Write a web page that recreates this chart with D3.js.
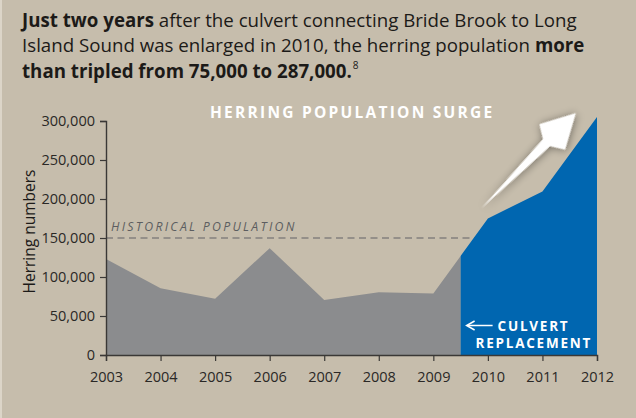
<!DOCTYPE html>
<html>
<head>
<meta charset="utf-8">
<script src="https://cdn.jsdelivr.net/npm/d3@7/dist/d3.min.js"></script>
<style>
  html, body { margin: 0; padding: 0; background: #c6bdac; }
  svg { display: block; }
  text { font-family: "Open Sans", "Noto Sans", sans-serif; }
</style>
</head>
<body>
<svg id="chart" width="636" height="418"></svg>
<script>
// ---- data ----
const years = [2003, 2004, 2005, 2006, 2007, 2008, 2009, 2010, 2011, 2012];
const herring = [123000, 85500, 72000, 137000, 70500, 80500, 79000, 175000, 209500, 305000];
const yTicks = [0, 50000, 100000, 150000, 200000, 250000, 300000];
const historicalLevel = 150000;
const culvertYear = 2009.5;
const headline = [
  [["Just two years", true], [" after the culvert connecting Bride Brook to Long", false]],
  [["Island Sound was enlarged in 2010, the herring population ", false], ["more", true]],
  [["than tripled from 75,000 to 287,000.", true]]
];

const W = 636, H = 418;
const margin = { left: 106, right: 39, top: 121, bottom: 63 };
const svg = d3.select("#chart");

// background
svg.append("rect").attr("width", W).attr("height", H).attr("fill", "#c6bdac");
svg.append("rect").attr("width", 2).attr("height", H).attr("fill", "#dcd5c8");

const x = d3.scaleLinear().domain([2003, 2012]).range([margin.left, W - margin.right]);
const y = d3.scaleLinear().domain([0, 300000]).range([H - margin.bottom, margin.top]);

const defs = svg.append("defs");
defs.append("clipPath").attr("id", "clipGray").append("rect")
  .attr("x", 0).attr("y", 0).attr("width", x(culvertYear)).attr("height", H);
defs.append("clipPath").attr("id", "clipBlue").append("rect")
  .attr("x", x(culvertYear)).attr("y", 0).attr("width", W - x(culvertYear)).attr("height", H);
const f = defs.append("filter").attr("id", "shadow")
  .attr("x", "-50%").attr("y", "-50%").attr("width", "200%").attr("height", "200%");
f.append("feDropShadow").attr("dx", 0).attr("dy", 1).attr("stdDeviation", 4.5)
  .attr("flood-color", "#000").attr("flood-opacity", 0.45);

// headline
const head = svg.append("text").attr("x", 22).attr("y", 27)
  .attr("font-size", 18.7).attr("fill", "#1c1a18");
headline.forEach((line, i) => {
  line.forEach((seg, j) => {
    const t = head.append("tspan").text(seg[0]).attr("font-weight", seg[1] ? 700 : 400);
    if (j === 0) t.attr("x", 22).attr("dy", i === 0 ? 0 : 25.3);
  });
});
head.append("tspan").text("8").attr("font-size", 10).attr("dy", -9).attr("dx", 1);

// historical dashed line (behind area)
svg.append("line")
  .attr("x1", x(2003)).attr("x2", x(2010)).attr("y1", y(historicalLevel)).attr("y2", y(historicalLevel))
  .attr("stroke", "#626366").attr("stroke-width", 1.2).attr("stroke-dasharray", "7,4.5");
svg.append("text").attr("x", x(2003) + 5).attr("y", y(historicalLevel) - 7.5)
  .attr("font-size", 12.3).attr("font-style", "italic").attr("letter-spacing", 2.3)
  .attr("fill", "#5c5d60").text("HISTORICAL POPULATION");

// areas
const data = years.map((yr, i) => ({ yr, v: herring[i] }));
const area = d3.area().x(d => x(d.yr)).y0(y(0)).y1(d => y(d.v));
svg.append("path").datum(data).attr("d", area).attr("fill", "#8b8c8e").attr("clip-path", "url(#clipGray)");
svg.append("path").datum(data).attr("d", area).attr("fill", "#0066b0").attr("clip-path", "url(#clipBlue)");

// axes
const yAxis = svg.append("g").attr("transform", `translate(${x(2003)},0)`)
  .call(d3.axisLeft(y).tickValues(yTicks).tickSize(6).tickPadding(5).tickFormat(d3.format(",")));
const xAxis = svg.append("g").attr("transform", `translate(0,${y(0)})`)
  .call(d3.axisBottom(x).tickValues(years).tickSize(6).tickPadding(11).tickFormat(d3.format("d")));
[yAxis, xAxis].forEach(g => {
  g.select(".domain").attr("stroke", "#3a3836").attr("stroke-width", 1.4);
  g.selectAll(".tick line").attr("stroke", "#3a3836").attr("stroke-width", 1.2);
  g.selectAll(".tick text").attr("fill", "#2a2826").attr("font-size", 14.5)
    .attr("font-family", "'Open Sans', sans-serif");
});

// y label
svg.append("text").attr("transform", `translate(35,231.5) rotate(-90)`)
  .attr("text-anchor", "middle").attr("font-size", 15.5).attr("fill", "#1c1a18").text("Herring numbers");

// chart title
svg.append("text").attr("x", 210).attr("y", 117.5).attr("font-size", 15.5).attr("font-weight", 700)
  .attr("letter-spacing", 2.25).attr("fill", "#ffffff").text("HERRING POPULATION SURGE");

// culvert annotation
const cx = x(culvertYear);
svg.append("line").attr("x1", cx + 7).attr("x2", cx + 32).attr("y1", 325.5).attr("y2", 325.5)
  .attr("stroke", "#fff").attr("stroke-width", 1.5);
svg.append("path").attr("d", `M${cx + 14},321 L${cx + 6},325.5 L${cx + 14},330`)
  .attr("fill", "none").attr("stroke", "#fff").attr("stroke-width", 1.5);
svg.append("text").attr("x", cx + 37).attr("y", 331).attr("font-size", 13.5).attr("font-weight", 700)
  .attr("letter-spacing", 1.75).attr("fill", "#fff").text("CULVERT");
svg.append("text").attr("x", cx + 15).attr("y", 347.5).attr("font-size", 13.5).attr("font-weight", 700)
  .attr("letter-spacing", 1.75).attr("fill", "#fff").text("REPLACEMENT");

// surge arrow
const tail = [x(2009.89), y(188500)], tip = [x(2011.61), y(310000)];
const dx = tip[0] - tail[0], dy = tip[1] - tail[1];
const len = Math.hypot(dx, dy), ang = Math.atan2(dy, dx) * 180 / Math.PI;
const L = len;
const arrowPts = [[0, 0], [L * 0.69, -5], [L * 0.75, -18], [L, 0], [L * 0.75, 18], [L * 0.69, 5]];
svg.append("path")
  .attr("d", "M" + arrowPts.map(p => p.join(",")).join("L") + "Z")
  .attr("transform", `translate(${tail[0]},${tail[1]}) rotate(${ang})`)
  .attr("fill", "#ffffff").attr("filter", "url(#shadow)");
</script>
</body>
</html>
